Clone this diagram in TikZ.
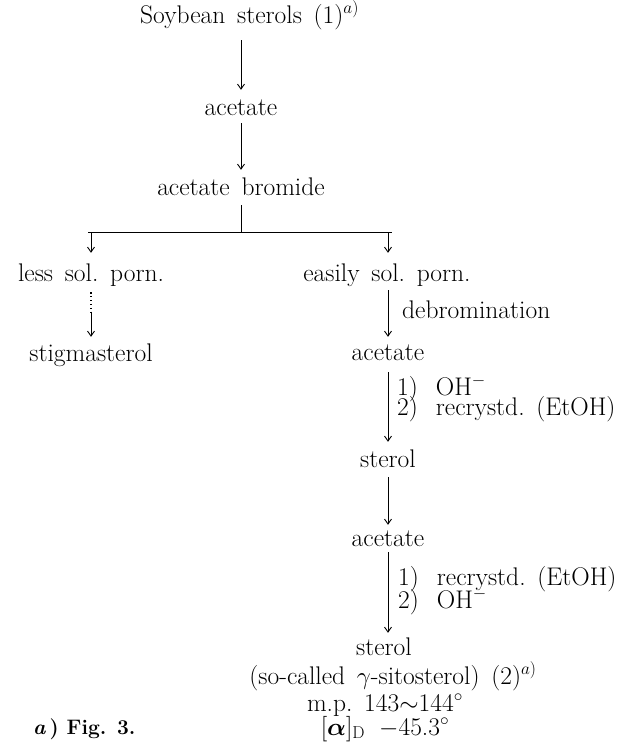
\documentclass[tikz,border=0pt]{standalone}
\usepackage{amsmath}
\usetikzlibrary{arrows.meta}
\newcommand\mywordsp{\spaceskip=0.46em plus 0.1em minus 0.05em\relax\xspaceskip=0.46em\relax}
\begin{document}
\begin{tikzpicture}[x=1pt,y=-1pt,
  txt/.style={font=\fontsize{25.5}{19}\selectfont, execute at begin node=\mywordsp,
    inner sep=0pt, text height=17pt, text depth=5pt, anchor=base},
  lbl/.style={txt, text height=15pt, text depth=3pt, anchor=base west},
  foot/.style={font=\fontsize{21}{24}\selectfont\bfseries, inner sep=0pt, anchor=base west},
  arr/.style={-{Straight Barb[length=5pt,width=7pt]}, line width=0.9pt},
  ln/.style={line width=0.9pt},
  dotline/.style={line width=1.3pt, dash pattern=on 1.3pt off 2.6pt}]
\useasboundingbox (0,0) rectangle (630,745);

% main column
\node[txt, anchor=base west] (soy) at (140,23) {Soybean sterols (1)$^{a)}$};
\node[txt] (ac1) at (241,115) {acetate};
\node[txt] (br) at (241,195) {acetate bromide};
\coordinate (sp) at (241,232);
\coordinate (bl) at (91,232);
\coordinate (bR) at (388,232);

% left branch
\node[txt] (less) at (91,281) {less sol. porn.};
\coordinate (dm) at (91,313);
\node[txt] (stig) at (91,361) {stigmasterol};

% right branch
\node[txt] (easy) at (387,281) {easily sol. porn.};
\node[lbl] (deb) at (402,318) {debromination};
\node[txt] (ac2) at (388,360) {acetate};
\node[lbl] (c1a) at (397,395) {1)\hspace{18pt}OH$^-$};
\node[lbl] (c1b) at (397,415) {2)\hspace{18pt}recrystd. (EtOH)};
\node[txt] (st1) at (388,467) {sterol};
\node[txt] (ac3) at (388,546) {acetate};
\node[lbl] (c2a) at (398,585) {1)\hspace{18pt}recrystd. (EtOH)};
\node[lbl] (c2b) at (398,608) {2)\hspace{18pt}OH$^-$};
\node[txt] (st2) at (384,655) {sterol};
\node[txt] (sc) at (393,684) {(so-called $\gamma$-sitosterol) (2)$^{a)}$};
\node[txt] (mp) at (385,711) {m.p. 143{$\sim$}144$^\circ$};
\node[txt] (rot) at (385,735) {[$\boldsymbol{\alpha}$]$_{\mathrm{D}}$\hspace{14pt}$-$45.3$^\circ$};

% footnote
\node[foot] (fn) at (33,734) {\textit{a}\,) Fig. 3.};

% connectors
\draw[arr, shorten <=12pt, shorten >=8pt] (soy.south -| ac1) -- (ac1.north);
\draw[arr, shorten <=3pt, shorten >=8pt] (ac1.south) -- (br.north);
\draw[ln, shorten <=5pt] (br.south) -- (sp);
\draw[ln] ([xshift=-3pt]bl) -- ([xshift=4pt]bR);
\draw[arr, shorten >=11pt] (bl) -- (less.north);
\draw[arr, shorten >=11pt] (bR) -- (easy.north -| bR);
\draw[dotline, shorten <=6pt] (less.south) -- (dm);
\draw[arr, shorten >=7pt] (dm) -- (stig.north);
\draw[arr, shorten <=4pt, shorten >=6pt] (easy.south -| ac2) -- (ac2.north);
\draw[arr, shorten <=7pt, shorten >=8pt] (ac2.south) -- (st1.north);
\draw[arr, shorten <=5pt, shorten >=4pt] (st1.south) -- (ac3.north);
\draw[arr, shorten <=1pt, shorten >=5pt] (ac3.south) -- (st2.north -| ac3);
\end{tikzpicture}
\end{document}
